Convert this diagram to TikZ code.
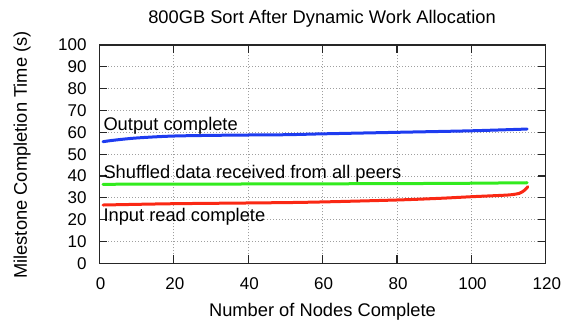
\documentclass[tikz,border=0pt]{standalone}
\usepackage{fontspec}
\setmainfont{Liberation Sans}
\definecolor{cblue}{RGB}{30,60,240}
\definecolor{cgreen}{RGB}{50,235,30}
\definecolor{cred}{RGB}{250,40,20}
\begin{document}
\begin{tikzpicture}[x=1pt,y=-1pt,
  lab/.style={inner sep=0pt, font=\fontsize{18.3}{22}\selectfont},
  ticklab/.style={inner sep=0pt, font=\fontsize{17}{20}\selectfont},
  gridline/.style={draw=gray!75, dash pattern=on 1pt off 2pt, line width=0.7pt},
  frameline/.style={draw=black!85, line width=1.2pt},
  curve/.style={line width=3pt, line cap=round, line join=round}]
\useasboundingbox (0,0) rectangle (570,323);
\begin{scope}[shift={(99.3,263.3)}, x=3.72pt, y=2.183pt]
  % grid
  \foreach \v in {20,40,...,100} \draw[gridline] (\v,0) -- (\v,100);
  \foreach \v in {10,20,...,90} \draw[gridline] (0,\v) -- (120,\v);
  % curves
  \draw[curve, cblue] plot[smooth, tension=0.5] coordinates {(1,55.7) (4,56.4) (10,57.4) (20,58.3) (35,58.7) (50,58.9) (60,59.3) (80,60.0) (100,60.7) (115,61.5)};
  \draw[curve, cgreen] plot coordinates {(1,36.2) (60,36.4) (95,36.6) (115,36.9)};
  \draw[curve, cred] plot[smooth, tension=0.4] coordinates {(1,26.7) (20,27.3) (54,27.9) (80,29.0) (92,29.8) (100,30.5) (110,31.3) (113,32.1) (114.4,33.6) (115.2,35.1)};
  % ticks
  \foreach \v in {20,40,...,100} {
    \draw[frameline] (\v,0) -- ++(0pt,8pt);
    \draw[frameline] (\v,100) -- ++(0pt,-8pt);
  }
  \foreach \v in {10,20,...,90} {
    \draw[frameline] (0,\v) -- ++(8pt,0pt);
    \draw[frameline] (120,\v) -- ++(-8pt,0pt);
  }
  % frame
  \draw[frameline] (0,0) rectangle (120,100);
  % tick labels
  \foreach \v in {0,10,...,100}
    \node[ticklab, anchor=east] (yt\v) at ([xshift=-12.6pt]0,\v) {\v};
  \foreach \v in {0,20,...,120}
    \node[ticklab, anchor=base] (xt\v) at ([xshift=1.2pt, yshift=-25.7pt]\v,0) {\v};
\end{scope}
\node[lab, anchor=base] (title) at (322,24) {800GB Sort After Dynamic Work Allocation};
\node[lab, anchor=base] (xlabel) at (322.5,316) {Number of Nodes Complete};
\node[lab, anchor=base, rotate=90] (ylabel) at (27,155) {Milestone Completion Time (s)};
\node[lab, anchor=base west] (lout) at (103.3,130.7) {Output complete};
\node[lab, anchor=base west] (lshuf) at (103.3,178.3) {Shuffled data received from all peers};
\node[lab, anchor=base west] (lin) at (103.3,221.7) {Input read complete};
\end{tikzpicture}
\end{document}
